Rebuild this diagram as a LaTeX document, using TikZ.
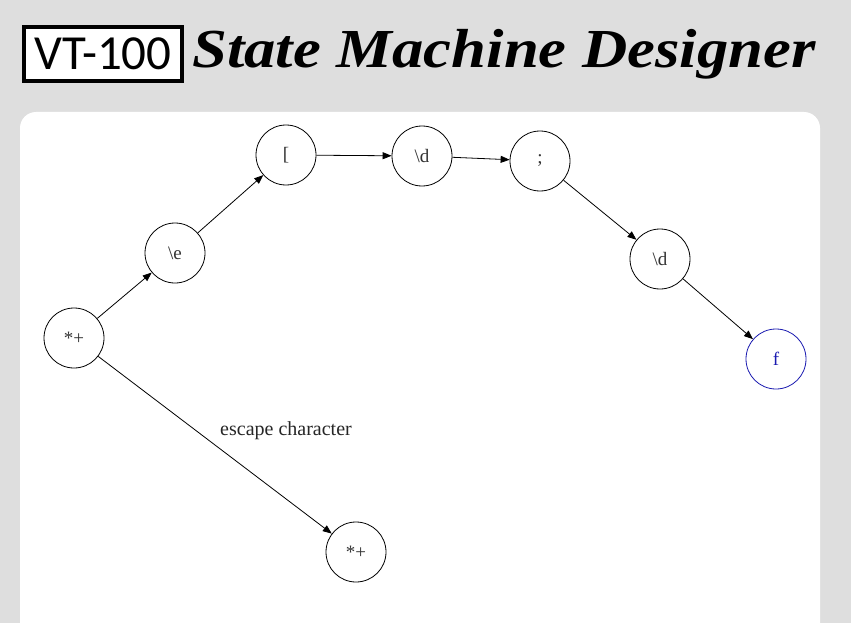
\documentclass[tikz,border=0pt]{standalone}
\usepackage{fontspec}
\setmainfont{Liberation Serif}
\newfontfamily\logofont{Carlito}
\usetikzlibrary{shapes.geometric, arrows.meta}
\definecolor{pagegrey}{HTML}{DEDEDE}
\definecolor{finalblue}{HTML}{1A1AB0}
\tikzstyle{state} = [circle, minimum size=60pt, inner sep=0pt, draw=black, line width=0.8pt, text=black!80, font=\fontsize{19}{19}\selectfont]
\tikzstyle{final} = [state, draw=finalblue, text=finalblue]
\tikzstyle{arrow} = [line width=0.8pt, -{Triangle[length=9pt,width=7pt]}]

\begin{document}
\begin{tikzpicture}[x=1pt, y=-1pt]
\useasboundingbox (0,0) rectangle (851,623);
\fill[pagegrey] (0,0) rectangle (851,623);
\fill[white, rounded corners=16pt] (20,112) rectangle (820,660);
% title
\node[draw=black, line width=4pt, fill=white, minimum width=158pt, minimum height=54pt, inner sep=0pt, anchor=west, font=\logofont\fontsize{49}{49}\selectfont] (logo) at (22,54) {\raisebox{1pt}{VT-100}};
\node[anchor=base west, inner sep=0pt, font=\bfseries\itshape\fontsize{55}{55}\selectfont] (title) at (192,68) {\scalebox{1.14}[1]{State Machine Designer}};
% states
\node[state] (start) at (74,338) {*+};
\node[state] (esc) at (175,253) {\textbackslash e};
\node[state] (brack) at (286,155) {[};
\node[state] (digA) at (422,156) {\textbackslash d};
\node[state] (semi) at (540,161) {;};
\node[state] (digB) at (660,259) {\textbackslash d};
\node[final] (fin) at (776,359) {f};
\node[state] (other) at (356,552) {*+};
% transitions
\draw[arrow] (start) -- (esc);
\draw[arrow] (esc) -- (brack);
\draw[arrow] (brack) -- (digA);
\draw[arrow] (digA) -- (semi);
\draw[arrow] (semi) -- (digB);
\draw[arrow] (digB) -- (fin);
\draw[arrow] (start) -- (other);
\node[font=\fontsize{20}{20}\selectfont, text=black!85] (esclabel) at (286,431) {escape character};
\end{tikzpicture}
\end{document}
